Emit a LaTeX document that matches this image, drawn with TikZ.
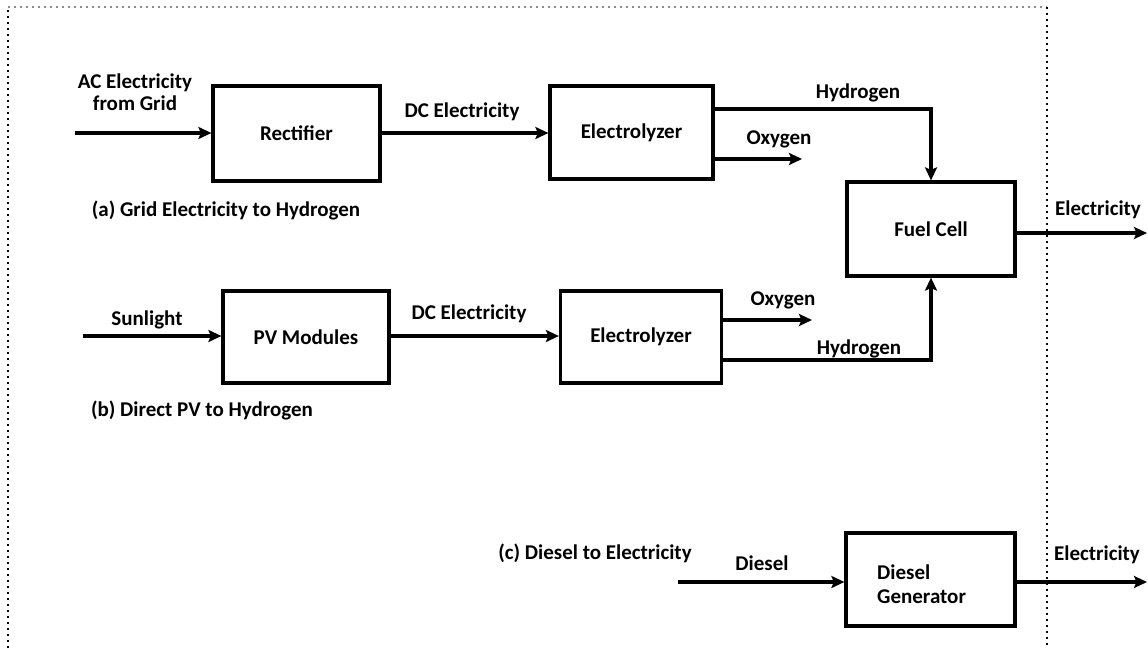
\documentclass[tikz,border=0pt]{standalone}
\usepackage{fontspec}
\setmainfont{Carlito}
\usetikzlibrary{arrows.meta}
\begin{document}
\begin{tikzpicture}[x=1pt,y=-1pt,
  box/.style={draw=black, line width=3.2pt, fill=white, inner sep=0pt, align=center, font=\fontsize{21}{25}\selectfont\bfseries},
  lbl/.style={inner sep=0pt, align=center, font=\fontsize{21}{25}\selectfont\bfseries},
  arr/.style={line width=3.2pt, -{Stealth[length=13pt,width=12pt,inset=2.5pt]}},
  border/.style={line width=1.8pt, dash pattern=on 1.8pt off 4.2pt}
]
\useasboundingbox (0,0) rectangle (1148,648);
% border
\draw[border] (8,648) -- (8,7);
\draw[border, black!45, line width=1.2pt] (8,7) -- (1047,7);
\draw[border] (1047,7) -- (1047,648);

% (a)
\node[box, minimum width=167pt, minimum height=95pt] (rect) at (296.5,133.5) {Rectifier};
\node[box, minimum width=163pt, minimum height=93pt] (el1) at (631.5,132.5) {Electrolyzer};
\node[box, minimum width=168pt, minimum height=94pt] (fc) at (931,229) {Fuel Cell};
\coordinate (acin) at (75,133);
\draw[arr] (acin) -- (rect.west |- acin);
\draw[arr] (rect.east |- acin) -- (el1.west |- acin);
\coordinate (h1s) at (713,109);
\draw[arr] (h1s) -| (fc.north);
\coordinate (o1s) at (713,159);
\coordinate (o1e) at (802,159);
\draw[arr] (o1s) -- (o1e);
\coordinate (e1s) at (1015,233);
\coordinate (e1e) at (1147,233);
\draw[arr] (e1s) -- (e1e);
\node[lbl] (lac) at (135,92) {AC Electricity\\[-3pt]from Grid};
\node[lbl] (ldc1) at (462,112) {DC Electricity};
\node[lbl] (lh1) at (858,93) {Hydrogen};
\node[lbl] (lo1) at (779,139) {Oxygen};
\node[lbl] (le1) at (1098,210) {Electricity};
\node[lbl] (la) at (226,210) {(a) Grid Electricity to Hydrogen};

% (b)
\node[box, minimum width=166pt, minimum height=92pt] (pv) at (306,337) {PV Modules};
\node[box, minimum width=161pt, minimum height=92pt] (el2) at (641,337) {Electrolyzer};
\coordinate (sun) at (83,336);
\draw[arr] (sun) -- (pv.west |- sun);
\draw[arr] (pv.east |- sun) -- (el2.west |- sun);
\coordinate (o2s) at (722,320);
\coordinate (o2e) at (812,320);
\draw[arr] (o2s) -- (o2e);
\coordinate (h2s) at (722,360);
\draw[arr] (h2s) -| (fc.south);
\node[lbl] (lsun) at (147,320) {Sunlight};
\node[lbl] (ldc2) at (469,314) {DC Electricity};
\node[lbl] (lo2) at (783,300) {Oxygen};
\node[lbl] (lh2) at (859,349) {Hydrogen};
\node[lbl] (lb) at (202,410) {(b) Direct PV to Hydrogen};

% (c)
\node[box, minimum width=169pt, minimum height=93pt] (dg) at (930.5,579.5) {};
\node[lbl, align=left, anchor=west] (dgt) at (877,584) {Diesel\\[-1pt]Generator};
\coordinate (dins) at (678,582);
\draw[arr] (dins) -- (dg.west |- dins);
\coordinate (e2s) at (1015,582);
\coordinate (e2e) at (1147,582);
\draw[arr] (e2s) -- (e2e);
\node[lbl] (ldi) at (762,563) {Diesel};
\node[lbl] (le2) at (1097,555) {Electricity};
\node[lbl] (lc) at (595,553) {(c) Diesel to Electricity};
\end{tikzpicture}
\end{document}
